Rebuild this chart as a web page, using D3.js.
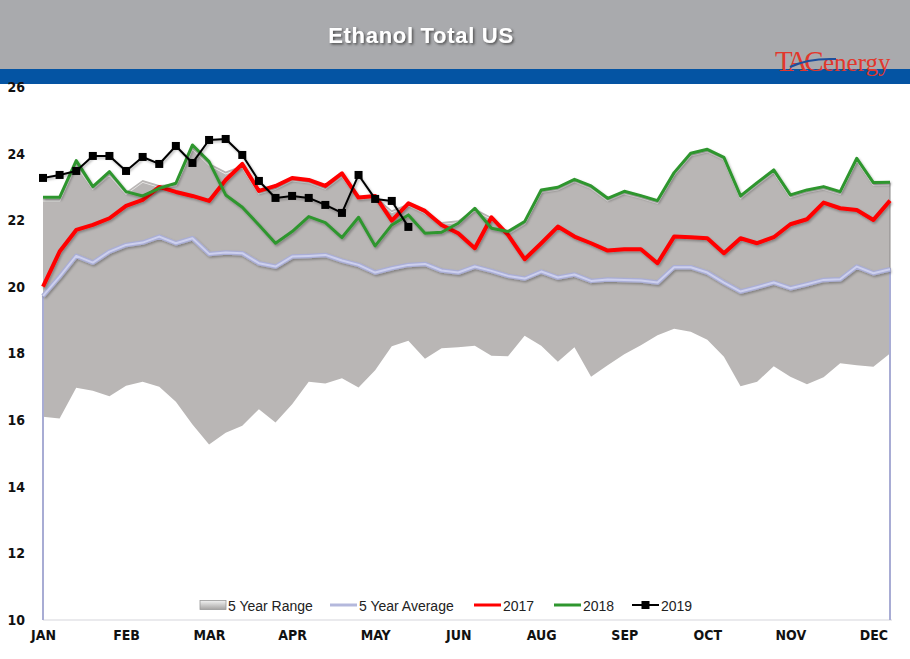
<!DOCTYPE html>
<html><head><meta charset="utf-8">
<script src="https://cdn.jsdelivr.net/npm/d3@7"></script>
<style>
html,body{margin:0;padding:0;background:#fff;}
svg{display:block;}
</style></head><body>
<svg id="chart" width="910" height="659"></svg>
<script>
const weeks = d3.range(1, 53);
const monthLabels = ["JAN","FEB","MAR","APR","MAY","JUN","AUG","SEP","OCT","NOV","DEC"];
const yTicks = [10,12,14,16,18,20,22,24,26];
const legendNames = ["5 Year Range","5 Year Average","2017","2018","2019"];

const rangeMin = [16.1,16.05,16.97,16.88,16.72,17.03,17.15,17.0,16.55,15.87,15.27,15.62,15.83,16.33,15.93,16.48,17.15,17.1,17.26,16.98,17.5,18.22,18.38,17.84,18.16,18.19,18.23,17.93,17.92,18.53,18.23,17.75,18.19,17.3,17.65,17.98,18.25,18.55,18.74,18.65,18.41,17.9,17.02,17.15,17.62,17.3,17.08,17.29,17.71,17.65,17.6,18.0];
const rangeMax = [22.65,22.65,23.72,23.0,23.42,22.85,23.21,23.06,23.1,24.2,23.72,23.46,23.65,22.86,23.0,23.25,23.19,23.0,23.38,22.7,22.72,22.3,22.5,22.27,21.95,22.0,22.35,22.1,21.65,21.95,22.9,22.98,23.22,23.02,22.65,22.86,22.73,22.58,23.42,24.0,24.12,23.88,22.72,23.12,23.5,22.75,22.9,23.0,22.85,23.85,23.12,23.13];
const avg5 = [19.73,20.31,20.93,20.73,21.06,21.26,21.33,21.51,21.31,21.46,20.99,21.03,21.01,20.71,20.61,20.91,20.93,20.96,20.79,20.66,20.43,20.56,20.66,20.69,20.49,20.43,20.61,20.48,20.33,20.25,20.46,20.28,20.37,20.18,20.22,20.21,20.19,20.13,20.59,20.59,20.43,20.13,19.86,19.99,20.13,19.96,20.08,20.21,20.23,20.61,20.41,20.53];
const y2017 = [20.01,21.06,21.71,21.86,22.06,22.43,22.61,23.0,22.85,22.73,22.58,23.21,23.69,22.88,23.03,23.27,23.21,23.03,23.41,22.68,22.73,21.99,22.51,22.28,21.86,21.61,21.16,22.09,21.56,20.83,21.31,21.81,21.51,21.31,21.09,21.13,21.13,20.71,21.51,21.49,21.46,21.01,21.46,21.31,21.49,21.88,22.03,22.53,22.36,22.31,22.01,22.59];
const y2018 = [22.69,22.69,23.79,23.01,23.46,22.86,22.73,22.96,23.11,24.26,23.76,22.76,22.39,21.86,21.31,21.66,22.11,21.93,21.48,22.09,21.23,21.86,22.16,21.61,21.64,21.91,22.36,21.76,21.66,21.96,22.91,22.99,23.23,23.03,22.66,22.87,22.74,22.59,23.43,24.01,24.13,23.89,22.73,23.13,23.51,22.76,22.91,23.01,22.86,23.86,23.13,23.14];
const y2019 = [23.27,23.36,23.48,23.93,23.93,23.48,23.9,23.69,24.23,23.72,24.41,24.44,23.96,23.18,22.67,22.73,22.67,22.46,22.22,23.36,22.64,22.58,21.8];

const svg = d3.select("#chart");
const x = d3.scalePoint().domain(weeks).range([43, 890]);
const y = d3.scaleLinear().domain([10, 26]).range([620, 87]);

const defs = svg.append("defs");
const sh = defs.append("filter").attr("id","sh").attr("x","-5%").attr("y","-20%").attr("width","110%").attr("height","140%");
sh.append("feDropShadow").attr("dx",1.2).attr("dy",1.6).attr("stdDeviation",1).attr("flood-color","#000").attr("flood-opacity",0.3);
const tsh = defs.append("filter").attr("id","tsh").attr("x","-10%").attr("y","-30%").attr("width","120%").attr("height","160%");
tsh.append("feDropShadow").attr("dx",1.5).attr("dy",1.5).attr("stdDeviation",0.8).attr("flood-color","#3a3a3a").attr("flood-opacity",0.8);
const lg = defs.append("linearGradient").attr("id","swatch").attr("x1",0).attr("y1",0).attr("x2",0).attr("y2",1);
lg.append("stop").attr("offset","0%").attr("stop-color","#f2f2f2");
lg.append("stop").attr("offset","100%").attr("stop-color","#a5a3a2");

// header
svg.append("rect").attr("x",0).attr("y",0).attr("width",910).attr("height",69).attr("fill","#a9aaad");
svg.append("rect").attr("x",0).attr("y",69).attr("width",910).attr("height",15).attr("fill","#0454a3");
svg.append("text").attr("x",421).attr("y",43).attr("text-anchor","middle")
  .attr("font-family","'Liberation Sans', Arial, sans-serif").attr("font-weight","bold")
  .attr("font-size",22).attr("letter-spacing",0.7).attr("fill","#fff").attr("filter","url(#tsh)")
  .text("Ethanol Total US");

// logo
const logo = svg.append("g");
logo.append("text").attr("x",775).attr("y",71).attr("font-family","'Liberation Serif', 'Times New Roman', serif")
  .attr("font-size",29).attr("letter-spacing",-3.5).attr("fill","#e2372c").text("TAC");
logo.append("text").attr("x",823).attr("y",71).attr("font-family","'Liberation Serif', 'Times New Roman', serif")
  .attr("font-size",25).attr("fill","#e2372c").text("energy");
logo.append("path").attr("d","M790,67 Q808,58 836,59").attr("fill","none").attr("stroke","#1d4f9c").attr("stroke-width",2);

// range area
const idx = d3.range(weeks.length);
const area = d3.area().x(i => x(weeks[i])).y0(i => y(rangeMin[i])).y1(i => y(rangeMax[i]));
defs.append("clipPath").attr("id","rclip").append("path").attr("d", area(idx));
svg.append("path").attr("d", area(idx)).attr("fill","#b9b6b5");
const topLine = d3.line().x(i => x(weeks[i])).y(i => y(rangeMax[i]));
svg.append("path").attr("d", topLine(idx)).attr("clip-path","url(#rclip)").attr("transform","translate(0,2)")
  .attr("fill","none").attr("stroke","#ecebea").attr("stroke-width",1.6);
svg.append("line").attr("x1",x(weeks[51])).attr("x2",x(weeks[51])).attr("y1",y(rangeMax[51])).attr("y2",y(rangeMin[51]))
  .attr("stroke","#8a8888").attr("stroke-width",1);

// axis line
svg.append("line").attr("x1",43).attr("x2",892).attr("y1",y(10)).attr("y2",y(10)).attr("stroke","#d5d5dc").attr("stroke-width",1.2);

// 5-year average (area outline, no fill)
const avgPts = [[x(weeks[0]), y(10)]].concat(idx.map(i => [x(weeks[i]), y(avg5[i])])).concat([[x(weeks[51]), y(10)]]);
svg.append("path").attr("d", d3.line()(avgPts)).attr("fill","none").attr("stroke","#a8acd4").attr("stroke-width",2);
const avgLine = d3.line().x(i => x(weeks[i])).y(i => y(avg5[i]));
svg.append("path").attr("d", avgLine(idx)).attr("fill","none").attr("stroke","#aaaed6").attr("stroke-width",4.5).attr("filter","url(#sh)").attr("stroke-linejoin","round");
svg.append("path").attr("d", avgLine(idx)).attr("fill","none").attr("stroke","#cdd0ee").attr("stroke-width",2).attr("stroke-linejoin","round");

function series(vals, color, width) {
  const ln = d3.line().x((d, i) => x(weeks[i])).y(d => y(d));
  svg.append("path").attr("d", ln(vals)).attr("fill","none").attr("stroke",color)
    .attr("stroke-width",width).attr("stroke-linejoin","round").attr("filter","url(#sh)");
}
series(y2017, "#ff0000", 4);
series(y2018, "#2f962f", 3);
series(y2019, "#000000", 2);
svg.append("g").selectAll("rect").data(y2019).join("rect")
  .attr("x",(d,i) => x(weeks[i]) - 4).attr("y", d => y(d) - 4).attr("width",8).attr("height",8).attr("fill","#000");

// axes
const fnt = "'Liberation Sans Narrow', 'DejaVu Sans Condensed', Arial, sans-serif";
const xAxis = d3.axisBottom(x).tickValues(weeks.filter((w, i) => i % 5 === 0))
  .tickFormat((w) => monthLabels[(w - 1) / 5]).tickSize(0).tickPadding(10);
const gx = svg.append("g").attr("transform",`translate(0,${y(10)})`).call(xAxis);
gx.select(".domain").remove();
gx.selectAll("text").attr("font-family",fnt).attr("font-weight","bold").attr("font-size",14).attr("fill","#111");
const yAxis = d3.axisLeft(y).tickValues(yTicks).tickSize(0).tickPadding(0);
const gy = svg.append("g").attr("transform","translate(25,0)").call(yAxis);
gy.select(".domain").remove();
gy.selectAll("text").attr("font-family",fnt).attr("font-weight","bold").attr("font-size",14).attr("fill","#111");

// legend
const legX = [200, 330, 474, 554, 632];
const legColors = [null, "#b4b8dc", "#ff0000", "#2f962f", "#000"];
const leg = svg.append("g");
legendNames.forEach((name, k) => {
  const g = leg.append("g").attr("transform", `translate(${legX[k]},605)`);
  if (k === 0) {
    g.append("rect").attr("x",0).attr("y",-4.5).attr("width",26).attr("height",9).attr("fill","url(#swatch)").attr("stroke","#9a9a9a").attr("stroke-width",0.8);
  } else {
    g.append("line").attr("x1",0).attr("x2",27).attr("y1",0).attr("y2",0).attr("stroke",legColors[k]).attr("stroke-width",k === 4 ? 2 : 3);
    if (k === 4) g.append("rect").attr("x",9.5).attr("y",-4).attr("width",8).attr("height",8).attr("fill","#000");
  }
  g.append("text").attr("x", k === 0 ? 28 : 29).attr("y",5.5)
    .attr("font-family","'Liberation Sans', Arial, sans-serif").attr("font-size",14).attr("fill","#222").text(name);
});
</script>
</body></html>
